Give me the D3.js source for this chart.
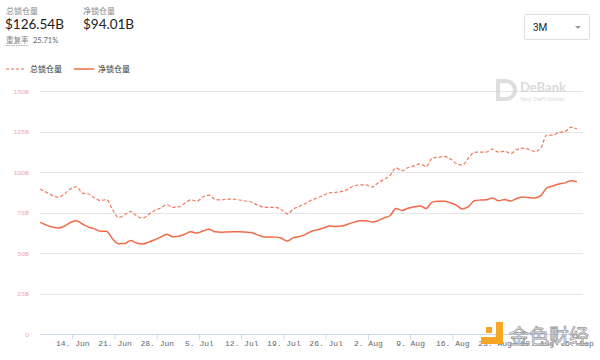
<!DOCTYPE html>
<html><head><meta charset="utf-8">
<script src="https://cdn.jsdelivr.net/npm/d3@7"></script>
<style>
body{margin:0;background:#fff;font-family:Lato,"Noto Sans CJK SC",sans-serif;}
svg{display:block}
</style></head>
<body><svg id="c" width="600" height="360"></svg>
<script>
// ---- data ----
const startDate = "2020-06-08T16:00:00";
const totalLocked = [89.5,87.5,85.6,84.4,86.4,89.5,90.9,87.0,86.4,84.1,82.4,83.0,76.8,71.9,73.5,75.7,72.8,71.6,73.8,76.2,
77.8,79.8,78.2,78.5,80.7,82.8,82.0,84.6,85.7,83.1,82.8,83.2,83.3,82.7,82.1,81.5,79.6,78.4,78.2,78.2,
76.7,74.1,77.2,78.9,80.6,82.7,84.1,85.6,87.2,87.4,88.0,89.3,91.5,92.0,92.0,90.7,93.2,95.4,97.8,102.6,
100.8,102.8,103.8,105.0,103.3,108.6,109.1,109.6,108.1,105.2,104.3,108.5,112.2,112.3,112.3,114.1,112.3,112.9,111.4,113.7,
114.7,114.0,112.6,114.8,122.8,122.8,124.4,124.9,127.6,126.54];
const netLocked = [68.9,67.3,66.0,65.4,66.5,68.8,69.9,67.9,66.0,64.9,63.4,63.5,58.8,55.7,55.8,57.7,56.2,55.6,56.7,58.2,
59.8,61.5,60.1,60.4,61.6,63.1,62.3,63.6,64.6,63.1,62.8,63.0,63.1,63.1,62.9,62.6,61.2,60.1,59.9,59.8,
59.1,57.4,59.5,60.2,61.5,63.4,64.3,65.4,66.6,66.4,66.6,67.8,68.9,69.9,69.9,69.1,69.9,71.7,73.0,77.5,
76.3,77.6,78.5,79.0,77.5,81.4,81.9,81.9,81.0,79.5,77.2,78.6,82.3,82.7,82.9,84.0,82.3,83.0,82.1,83.6,
84.5,84.2,84.0,85.4,90.2,91.4,92.6,93.3,94.6,94.01];
const yTicks = [0,25,50,75,100,125,150];
const xTickDates = ["2020-06-14","2020-06-21","2020-06-28","2020-07-05","2020-07-12","2020-07-19","2020-07-26",
"2020-08-02","2020-08-09","2020-08-16","2020-08-23","2020-08-30","2020-09-06"];
const seriesNames = ["总锁仓量","净锁仓量"];
const headerValues = ["$126.54B","$94.01B"];
const dupRate = "25.71%";

// ---- chart ----
const svg = d3.select("#c");
const color = "#f26a48";
const t0 = new Date(startDate);
const dates = totalLocked.map((_,i)=>d3.timeDay.offset(t0,i));
const x = d3.scaleTime().domain([new Date("2020-06-14T00:00:00"), new Date("2020-08-16T00:00:00")]).range([72.3,452.3]);
const y = d3.scaleLinear().domain([0,150]).range([334,91]);
const left=40, right=583;

// gridlines
svg.append("g").selectAll("line").data(yTicks.filter(d=>d>0)).join("line")
  .attr("x1",left).attr("x2",right).attr("y1",d=>Math.round(y(d))+0.5).attr("y2",d=>Math.round(y(d))+0.5)
  .attr("stroke","#e6e6e6").attr("stroke-width",1);
// y labels
svg.append("g").selectAll("text").data(yTicks).join("text")
  .attr("x",29).attr("y",d=>y(d)+2.5).attr("text-anchor","end")
  .attr("font-size",6.5).attr("fill","#f2a3a0").attr("font-family","Lato, sans-serif")
  .text(d=>d===0?"0":d+"B");

// DeBank watermark
const wm = svg.append("g").attr("opacity",0.6);
wm.append("path").attr("d","M496,79 h10 a11,11 0 0 1 0,22 h-10 z M500,83 v14 h6 a7,7 0 0 0 0,-14 z").attr("fill","#c8c8c8").attr("fill-rule","evenodd");
wm.append("text").attr("x",520).attr("y",92).attr("font-size",13).attr("font-weight",700).attr("fill","#c4c4c4").text("DeBank");
wm.append("text").attr("x",520).attr("y",101).attr("font-size",6).attr("fill","#c4c4c4").text("Your DeFi Wallet");

// lines
const line = d3.line().x((d,i)=>x(dates[i])).y(d=>y(d)).curve(d3.curveMonotoneX);
svg.append("path").datum(totalLocked).attr("d",line).attr("fill","none").attr("stroke",color)
  .attr("stroke-width",1.2).attr("stroke-dasharray","3.5,2").attr("opacity",0.9);
svg.append("path").datum(netLocked).attr("d",line).attr("fill","none").attr("stroke",color)
  .attr("stroke-width",1.5);

// x axis
const xAxis = d3.axisBottom(x).tickValues(xTickDates.map(s=>new Date(s+"T00:00:00")))
  .tickFormat(d=>d3.timeFormat("%-d. %b")(d)).tickSize(5).tickSizeOuter(0);
const gx = svg.append("g").attr("transform","translate(0,334.5)").call(xAxis);
gx.select(".domain").attr("d",`M${left},0H${right}`).attr("stroke","#ccd6eb");
gx.selectAll(".tick line").attr("stroke","#ccd6eb");
gx.selectAll(".tick text").attr("font-family","'Liberation Mono', monospace").attr("font-size",8).attr("fill","#666").attr("y",6).attr("dy","0.71em");

// header
const hd = svg.append("g");
hd.append("text").attr("x",6).attr("y",14).attr("font-size",8).attr("fill","#888").text(seriesNames[0]);
hd.append("text").attr("x",83).attr("y",14).attr("font-size",8).attr("fill","#888").text(seriesNames[1]);
hd.append("text").attr("x",5).attr("y",29).attr("font-size",13.5).attr("fill","#222").attr("font-family","Lato, sans-serif").text(headerValues[0]);
hd.append("text").attr("x",83).attr("y",29).attr("font-size",13.5).attr("fill","#222").attr("font-family","Lato, sans-serif").text(headerValues[1]);
hd.append("text").attr("x",6).attr("y",43).attr("font-size",7.5).attr("fill","#888").text("重复率");
hd.append("line").attr("x1",6).attr("x2",29).attr("y1",45.5).attr("y2",45.5).attr("stroke","#aaa").attr("stroke-dasharray","1.5,1");
hd.append("text").attr("x",33).attr("y",43).attr("font-size",7.5).attr("fill","#666").text(dupRate);

// legend
const lg = svg.append("g");
lg.append("line").attr("x1",6).attr("x2",25).attr("y1",69).attr("y2",69).attr("stroke",color).attr("stroke-width",1.2).attr("stroke-dasharray","3,2");
lg.append("text").attr("x",30).attr("y",72).attr("font-size",8).attr("fill","#333").text(seriesNames[0]);
lg.append("line").attr("x1",74).attr("x2",94).attr("y1",69).attr("y2",69).attr("stroke",color).attr("stroke-width",1.5);
lg.append("text").attr("x",98).attr("y",72).attr("font-size",8).attr("fill","#333").text(seriesNames[1]);

// dropdown
const dd = svg.append("g");
dd.append("rect").attr("x",524.5).attr("y",14.5).attr("width",65).attr("height",25).attr("fill","#fff").attr("stroke","#ddd").attr("rx",1);
dd.append("text").attr("x",533).attr("y",31).attr("font-size",10).attr("fill","#222").attr("font-family","Roboto, sans-serif").text("3M");
dd.append("path").attr("d","M575,26 l3,3 l3,-3 z").attr("fill","#999");

// 金色财经 watermark (overlays the last tick labels, as in the source image)
const jw = svg.append("g");
jw.append("rect").attr("x",486).attr("y",327).attr("width",6).attr("height",6).attr("fill","#f5a623");
jw.append("path").attr("d","M496,322 h7 v22 h-22 v-7 h15 z").attr("fill","#f5a623");
jw.append("text").attr("x",509).attr("y",344).attr("font-size",20).attr("fill","#fff").attr("fill-opacity",0.85).attr("stroke","#9a9a9a").attr("stroke-width",0.8)
  .attr("font-family","'Noto Sans CJK SC', sans-serif").text("金色财经");
</script></body></html>
